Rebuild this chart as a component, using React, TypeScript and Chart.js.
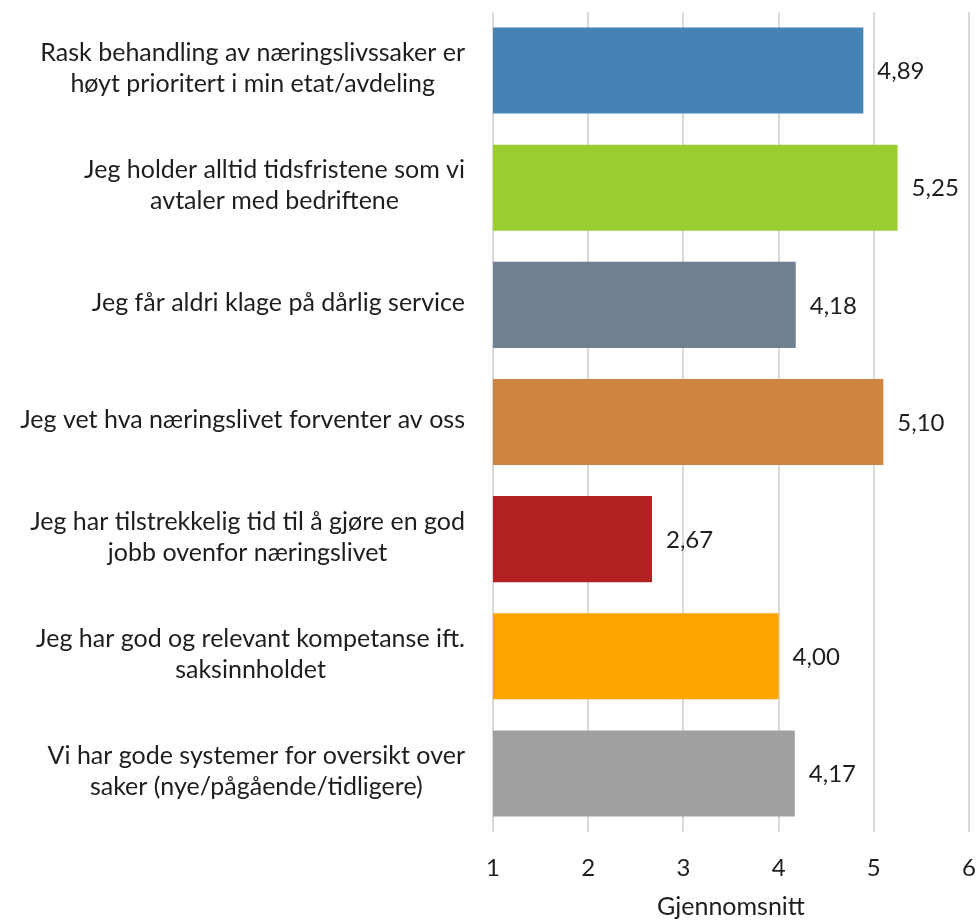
import React, { useEffect, useRef } from "react";
import { Chart, registerables } from "chart.js";

Chart.register(...registerables);

const categories: string[][] = [
  ["Rask behandling av næringslivssaker er", "høyt prioritert i min etat/avdeling"],
  ["Jeg holder alltid tidsfristene som vi", "avtaler med bedriftene"],
  ["Jeg får aldri klage på dårlig service"],
  ["Jeg vet hva næringslivet forventer av oss"],
  ["Jeg har tilstrekkelig tid til å gjøre en god", "jobb ovenfor næringslivet"],
  ["Jeg har god og relevant kompetanse ift.", "saksinnholdet"],
  ["Vi har gode systemer for oversikt over", "saker (nye/pågående/tidligere)"],
];
const values: number[] = [4.89, 5.25, 4.18, 5.1, 2.67, 4.0, 4.17];
const barColors: string[] = ["#4682B4", "#9ACD32", "#708090", "#CD853F", "#B22222", "#FFA500", "#A0A0A0"];
const xTicks: number[] = [1, 2, 3, 4, 5, 6];
const axisTitle = "Gjennomsnitt";

const FONT = "Lato, 'Liberation Sans', sans-serif";
const TEXT = "#1e1e1e";

const valueLabels = {
  id: "valueLabels",
  afterDatasetsDraw(chart: any) {
    const ctx = chart.ctx;
    const meta = chart.getDatasetMeta(0);
    ctx.save();
    ctx.font = `24px ${FONT}`;
    ctx.fillStyle = TEXT;
    ctx.textAlign = "left";
    ctx.textBaseline = "middle";
    meta.data.forEach((bar: any, i: number) => {
      const txt = values[i].toFixed(2).replace(".", ",");
      ctx.fillText(txt, bar.x + 14, bar.y + 1);
    });
    ctx.restore();
  },
};

const catLabels = {
  id: "catLabels",
  afterDraw(chart: any) {
    const ctx = chart.ctx;
    const yScale = chart.scales.y;
    const right = chart.chartArea.left - 28;
    const lh = 31;
    ctx.save();
    ctx.font = `25px ${FONT}`;
    ctx.fillStyle = TEXT;
    ctx.textAlign = "center";
    ctx.textBaseline = "middle";
    categories.forEach((lines, i) => {
      const w = Math.max(...lines.map((l) => ctx.measureText(l).width));
      const cx = right - w / 2;
      const cy = yScale.getPixelForValue(i) - 2;
      lines.forEach((l, j) => {
        ctx.fillText(l, cx, cy + (j - (lines.length - 1) / 2) * lh);
      });
    });
    ctx.restore();
  },
};

export default function App() {
  const ref = useRef<HTMLCanvasElement | null>(null);
  useEffect(() => {
    if (!ref.current) return;
    const chart = new Chart(ref.current, {
      type: "bar",
      data: {
        labels: categories.map((c) => c.join(" ")),
        datasets: [
          {
            data: values,
            backgroundColor: barColors,
            borderWidth: 0,
            categoryPercentage: 1,
            barPercentage: 0.735,
          },
        ],
      },
      options: {
        indexAxis: "y",
        animation: false,
        responsive: true,
        maintainAspectRatio: false,
        layout: { padding: { left: 493, right: 10, top: 12, bottom: 0 } },
        plugins: { legend: { display: false }, tooltip: { enabled: false } },
        scales: {
          y: {
            display: false,
          },
          x: {
            min: 1,
            max: 6,
            afterBuildTicks: (scale: any) => {
              scale.ticks = xTicks.map((v) => ({ value: v }));
            },
            afterFit: (scale: any) => {
              scale.height = 90;
              scale.paddingLeft = 0;
              scale.paddingRight = 0;
            },
            ticks: {
              color: TEXT,
              font: { family: FONT, size: 24 },
              padding: 22,
              callback: (v: any) => String(v),
            },
            grid: { color: "#D9D9D9", lineWidth: 2, drawTicks: false },
            border: { display: false },
            title: {
              display: true,
              text: axisTitle,
              color: TEXT,
              font: { family: FONT, size: 25 },
              padding: { top: 0, bottom: 0 },
            },
          },
        },
      },
      plugins: [valueLabels, catLabels],
    });
    return () => chart.destroy();
  }, []);
  return (
    <div style={{ position: "absolute", left: 0, top: 0, width: 979, height: 922, background: "#fff" }}>
      <canvas ref={ref} />
    </div>
  );
}
